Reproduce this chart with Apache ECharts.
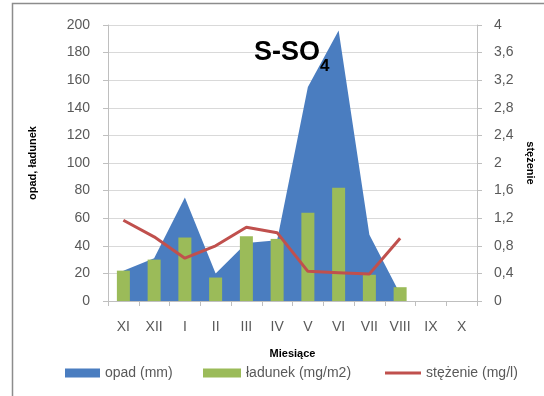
<!DOCTYPE html>
<html>
<head>
<meta charset="utf-8">
<script src="https://cdn.jsdelivr.net/npm/echarts@6/dist/echarts.min.js"></script>
<style>
  html, body { margin: 0; padding: 0; background: #fff; }
  #chart { width: 544px; height: 396px; }
</style>
</head>
<body>
<div id="chart"></div>
<script>
// Months of the hydrological year (XI .. X)
const months = ['XI', 'XII', 'I', 'II', 'III', 'IV', 'V', 'VI', 'VII', 'VIII', 'IX', 'X'];

// Precipitation, mm (area)
const opad = [22, 31, 75, 20, 42, 44, 155, 196, 48, 5, null, null];

// Sulphate load, mg/m2 (columns)
const ladunek = [22, 30, 46, 17, 47, 45, 64, 82, 19, 10, null, null];

// Concentration, mg/l (line, right axis)
const stezenie = [1.17, 0.93, 0.62, 0.8, 1.07, 0.99, 0.43, 0.41, 0.39, 0.91, null, null];

const leftTicks = { min: 0, max: 200, interval: 20 };
const rightTicks = { min: 0, max: 4, interval: 0.4 };

const labelColor = '#595959';
const font = '"Liberation Sans", Arial, sans-serif';

const chart = echarts.init(document.getElementById('chart'), null, { renderer: 'canvas' });

const legendText = { color: labelColor, fontSize: 14, fontFamily: font };

chart.setOption({
  animation: false,
  backgroundColor: '#ffffff',
  graphic: [{
    type: 'rect',
    shape: { x: 12.5, y: 3.5, width: 560, height: 420 },
    style: { fill: 'none', stroke: '#8c8c8c', lineWidth: 1.5 },
    z: 100
  }],
  title: {
    text: 'S-SO{sub|4}',
    left: 249,
    top: 25,
    textStyle: {
      fontFamily: font,
      fontSize: 27,
      fontWeight: 'bold',
      color: '#000',
      rich: {
        sub: { fontFamily: font, fontSize: 17, fontWeight: 'bold', color: '#000', padding: [28, 0, 0, 0] }
      }
    }
  },
  legend: [
    {
      left: 60, top: 361, itemWidth: 35, itemHeight: 9, itemGap: 10,
      data: [{ name: 'opad (mm)', icon: 'rect' }], textStyle: legendText
    },
    {
      left: 198, top: 361, itemWidth: 38, itemHeight: 9,
      data: [{ name: 'ładunek (mg/m2)', icon: 'rect' }], textStyle: legendText
    },
    {
      left: 380, top: 361, itemWidth: 36, itemHeight: 3,
      data: [{ name: 'stężenie (mg/l)', icon: 'rect' }], textStyle: legendText
    }
  ],
  grid: { left: 108, right: 67, top: 25, bottom: 95 },
  xAxis: {
    type: 'category',
    data: months,
    boundaryGap: true,
    name: 'Miesiące',
    nameLocation: 'middle',
    nameGap: 47,
    nameTextStyle: { fontFamily: font, fontSize: 11, fontWeight: 'bold', color: '#000' },
    axisLine: { lineStyle: { color: '#bfbfbf' } },
    axisTick: { show: true, length: 5, lineStyle: { color: '#bfbfbf' } },
    axisLabel: { color: labelColor, fontSize: 14, fontFamily: font, margin: 19 }
  },
  yAxis: [
    {
      type: 'value',
      min: leftTicks.min, max: leftTicks.max, interval: leftTicks.interval,
      name: 'opad, ładunek',
      nameLocation: 'middle',
      nameGap: 70,
      nameRotate: 90,
      nameTextStyle: { fontFamily: font, fontSize: 11, fontWeight: 'bold', color: '#000' },
      axisLine: { show: true, lineStyle: { color: '#bfbfbf' } },
      axisTick: { show: true, length: 5, lineStyle: { color: '#bfbfbf' } },
      splitLine: { lineStyle: { color: '#d9d9d9' } },
      axisLabel: { color: labelColor, fontSize: 14, fontFamily: font, margin: 18 }
    },
    {
      type: 'value',
      position: 'right',
      min: rightTicks.min, max: rightTicks.max, interval: rightTicks.interval,
      name: 'stężenie',
      nameLocation: 'middle',
      nameGap: 48,
      nameRotate: -90,
      nameTextStyle: { fontFamily: font, fontSize: 11, fontWeight: 'bold', color: '#000' },
      axisLine: { show: true, lineStyle: { color: '#bfbfbf' } },
      axisTick: { show: true, length: 5, lineStyle: { color: '#bfbfbf' } },
      splitLine: { show: false },
      axisLabel: {
        color: labelColor, fontSize: 14, fontFamily: font, margin: 17,
        formatter: v => String(Number(v.toFixed(1))).replace('.', ',')
      }
    }
  ],
  series: [
    {
      name: 'opad (mm)',
      type: 'line',
      data: opad,
      yAxisIndex: 0,
      symbol: 'none',
      lineStyle: { width: 0, color: '#4a7dc0' },
      itemStyle: { color: '#4a7dc0' },
      areaStyle: { color: '#4a7dc0', opacity: 1 },
      z: 1
    },
    {
      name: 'ładunek (mg/m2)',
      type: 'bar',
      data: ladunek,
      yAxisIndex: 0,
      barWidth: 13,
      itemStyle: { color: '#9bbb59' },
      z: 2
    },
    {
      name: 'stężenie (mg/l)',
      type: 'line',
      data: stezenie,
      yAxisIndex: 1,
      symbol: 'none',
      showSymbol: false,
      lineStyle: { width: 3, color: '#c0504d' },
      itemStyle: { color: '#c0504d' },
      z: 3
    }
  ]
});
</script>
</body>
</html>
